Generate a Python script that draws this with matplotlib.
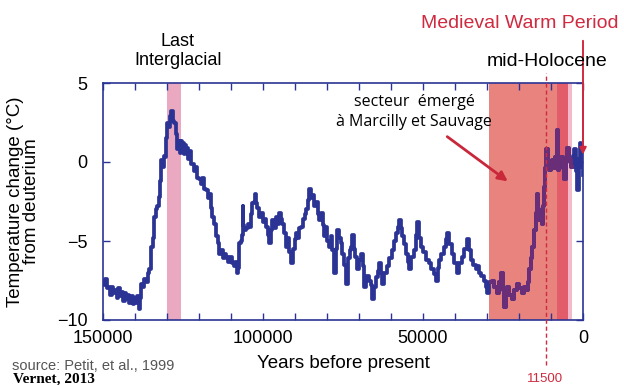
import numpy as np
import matplotlib
matplotlib.use('Agg')
import matplotlib.pyplot as plt

# Vostok deuterium temperature curve (age in kyr BP, deg C)
age_kyr = [150.0, 149.5, 149.0, 148.5, 148.0, 147.5, 147.0, 146.5, 146.0, 145.5, 145.0, 144.5,
           144.0, 143.5, 143.0, 142.5, 142.0, 141.5, 141.0, 140.5, 140.0, 139.5, 139.0, 138.6,
           138.2, 137.8, 137.3, 136.8, 136.3, 135.8, 135.3, 135.0, 134.7, 134.3, 133.75, 133.3,
           132.8, 132.2, 131.9, 131.6, 131.2, 130.9, 130.6, 130.2, 129.7, 129.3, 128.8, 128.4,
           128.0, 127.5, 127.1, 126.6, 126.2, 125.8, 125.4, 125.0, 124.6, 124.2, 123.75, 123.3,
           122.8, 122.4, 121.9, 121.4, 120.9, 120.4, 119.7, 119.2, 118.7, 118.2, 117.5, 117.0,
           116.5, 116.0, 115.6, 115.0, 114.4, 113.9, 113.4, 112.8, 112.2, 111.6, 111.25, 110.7,
           110.0, 109.4, 108.8, 108.4, 108.1, 107.6, 107.2, 106.8, 106.5, 106.25, 106.0, 105.6,
           105.0, 104.5, 104.1, 103.6, 103.1, 102.8, 102.5, 102.0, 101.5, 100.9, 100.3, 99.8,
           99.3, 98.75, 98.3, 97.8, 97.4, 96.9, 96.3, 95.8, 95.2, 94.7, 94.2, 93.75,
           93.2, 92.5, 92.0, 91.5, 90.9, 90.4, 89.9, 89.4, 88.9, 88.3, 87.8, 87.2,
           86.7, 86.25, 85.8, 85.3, 84.8, 84.3, 83.75, 83.2, 82.7, 82.2, 81.7, 81.1,
           80.6, 80.1, 79.6, 79.1, 78.6, 78.0, 77.5, 77.0, 76.6, 76.0, 75.5, 75.0,
           74.4, 73.75, 73.2, 72.7, 72.2, 71.9, 71.4, 70.8, 70.3, 69.7, 69.1, 68.6,
           68.1, 67.4, 66.6, 66.1, 65.6, 65.0, 64.4, 63.9, 63.4, 62.9, 62.5, 61.7,
           60.9, 60.2, 59.4, 58.8, 58.1, 57.6, 57.2, 56.7, 56.25, 55.6, 55.0, 54.5,
           54.1, 53.3, 52.5, 52.0, 51.6, 51.0, 50.3, 49.5, 48.75, 47.8, 46.9, 46.2,
           45.6, 45.1, 44.7, 43.9, 43.1, 42.6, 42.2, 41.4, 40.6, 39.8, 39.1, 38.3,
           37.5, 36.7, 35.9, 35.3, 34.7, 33.9, 33.1, 32.6, 32.2, 31.4, 30.6, 30.1,
           29.7, 28.9, 28.1, 27.4, 26.6, 26.0, 25.3, 24.8, 24.4, 23.9, 23.4, 22.6,
           21.9, 21.1, 20.3, 19.5, 18.75, 18.0, 17.2, 16.9, 16.6, 16.1, 15.6, 15.0,
           14.4, 14.1, 13.8, 13.4, 12.9, 12.5, 12.2, 11.9, 11.6, 11.25, 10.8, 10.3,
           9.8, 9.4, 8.8, 8.4, 8.1, 7.8, 7.2, 6.6, 6.1, 5.6, 5.1, 4.7,
           4.0, 3.4, 2.9, 2.5, 2.0, 1.6, 1.2, 0.9, 0.6, 0.3, 0.0]
temp = [-7.5, -7.8, -7.4, -8.0, -7.9, -8.4, -7.9, -8.3, -8.1, -8.6, -8.0, -8.5,
        -8.2, -8.8, -8.3, -8.7, -8.4, -8.9, -8.5, -9.0, -8.6, -8.9, -8.5, -9.3,
        -8.6, -7.7, -7.9, -7.4, -7.6, -7.0, -6.8, -6.2, -5.4, -4.8, -3.5, -3.0,
        -2.8, -2.2, -1.2, 0.1, -0.3, 0.4, 0.3, 1.5, 2.5, 2.2, 2.9, 3.2,
        2.6, 2.5, 1.8, 0.8, 1.3, 0.6, 1.3, 1.2, 0.5, 1.1, 0.9, 0.2,
        0.7, -0.1, -0.1, -0.6, -0.3, -1.0, -1.1, -1.4, -1.0, -1.7, -1.8, -2.3,
        -2.0, -2.9, -3.5, -3.9, -4.7, -5.1, -5.8, -5.6, -6.1, -5.8, -6.0, -6.3,
        -6.0, -6.4, -6.6, -6.3, -7.0, -6.7, -5.1, -5.0, -4.6, -2.8, -4.0, -4.3,
        -4.2, -3.9, -4.1, -3.3, -2.6, -2.5, -2.0, -2.6, -2.9, -3.5, -3.2, -3.8,
        -3.6, -4.1, -4.6, -5.1, -4.3, -3.7, -4.2, -3.5, -3.9, -3.2, -3.6, -3.9,
        -4.5, -5.4, -4.8, -5.7, -6.4, -5.5, -4.9, -4.5, -4.8, -4.2, -4.1, -3.6,
        -3.3, -3.0, -2.4, -1.7, -2.3, -2.1, -2.8, -2.5, -3.3, -3.7, -3.2, -4.0,
        -4.7, -4.1, -5.0, -5.4, -4.7, -5.6, -7.0, -5.5, -4.3, -4.8, -5.1, -5.8,
        -6.5, -7.7, -6.1, -5.6, -5.4, -4.6, -5.5, -6.0, -6.8, -6.2, -5.8, -6.6,
        -7.9, -7.2, -7.5, -7.8, -8.7, -7.9, -7.3, -6.9, -6.4, -7.0, -7.7, -7.0,
        -6.6, -6.1, -5.6, -5.0, -4.5, -4.1, -3.7, -4.2, -4.7, -5.2, -5.8, -6.3,
        -6.8, -6.0, -5.6, -4.6, -3.8, -4.8, -5.4, -5.7, -6.2, -6.4, -6.8, -7.1,
        -7.5, -6.7, -6.2, -5.8, -5.4, -4.9, -4.5, -5.2, -5.8, -6.4, -7.0, -6.4,
        -6.0, -5.5, -4.9, -5.6, -6.2, -6.5, -6.8, -6.6, -7.0, -7.2, -7.5, -7.9,
        -8.3, -7.6, -7.5, -7.9, -8.3, -7.6, -7.0, -8.1, -9.2, -8.3, -7.9, -8.4,
        -8.7, -8.1, -7.7, -8.0, -8.3, -7.9, -8.1, -7.6, -6.8, -6.1, -5.4, -4.3,
        -3.2, -2.0, -3.0, -3.7, -3.5, -3.9, -2.8, -1.6, -0.4, 0.8, -0.2, -0.5,
        0.0, 0.1, -0.4, 0.3, 2.0, -0.5, 0.2, 0.3, -0.4, -1.1, 0.0, 0.9,
        0.2, -0.3, 0.4, 0.8, -0.6, -1.8, 0.2, 1.2, 0.0, -0.3, -0.8]

# shaded periods (years BP)
interglacial = (130000, 125500)
emerged = (29500, 8000)
holocene_opt = (8000, 4700)
late_band = (4700, 3400)
dashed_age = 11500

years = np.array(age_kyr) * 1000
temp = np.array(temp)

navy = '#2b3494'
red = '#cf2a3f'

fig = plt.figure(figsize=(6.24, 3.85), dpi=100)
ax = fig.add_axes([103/624, 1 - 320/385, 480/624, 237/385])

ax.axvspan(*interglacial, color='#eaa9c1', lw=0, zorder=1)
ax.axvspan(*emerged, color='#e9837e', lw=0, zorder=1)
ax.axvspan(*holocene_opt, color='#e35c69', lw=0, zorder=1)
ax.axvspan(*late_band, color='#f1b9c9', lw=0, zorder=1)

ax.plot(years, temp, color=navy, lw=2.7, drawstyle='steps-mid', zorder=3)
# inside the salmon band the curve shows through purple
inside = (years <= emerged[0]) & (years >= late_band[1])
ax.plot(years[inside], temp[inside], color='#6a2d78', lw=2.7, drawstyle='steps-mid', zorder=4)

ax.axvline(dashed_age, ymin=-0.19, ymax=1.042, color=red, lw=1.0,
           ls=(0, (3, 2)), clip_on=False, zorder=5)

ax.set_xlim(150000, 0)
ax.set_ylim(-10, 5)
ax.set_xticks([150000, 100000, 50000, 0])
ax.set_xticks(np.arange(0, 150001, 10000), minor=True)
ax.set_yticks([5, 0, -5, -10])
ax.tick_params(which='both', direction='in', top=True, right=True, color=navy,
               labelsize=13, width=1.0)
ax.tick_params(which='both', length=5)
ax.tick_params(axis='y', pad=11)
ax.tick_params(axis='x', pad=7)
for lab in ax.get_xticklabels() + ax.get_yticklabels():
    lab.set_fontfamily('Liberation Sans')
for sp in ax.spines.values():
    sp.set_color(navy)
    sp.set_linewidth(1.2)

ax.set_xlabel('Years before present', fontsize=13.5, family='Liberation Sans', labelpad=6)
ax.set_ylabel('Temperature change (°C)\nfrom deuterium', fontsize=13.5,
              family='Liberation Sans', linespacing=0.95, labelpad=12)

def px(x, y):
    return x / 624, 1 - y / 385

fig.text(*px(178, 51), 'Last\nInterglacial', ha='center', va='center',
         fontsize=13, family='Liberation Sans', linespacing=1.1)
fig.text(*px(520, 23), 'Medieval Warm Period', ha='center', va='center',
         fontsize=14, color=red, family='Liberation Sans')
fig.text(*px(547, 62), 'mid-Holocene', ha='center', va='center',
         fontsize=14, family='Liberation Sans')
fig.text(*px(414, 112), 'secteur  émergé\nà Marcilly et Sauvage', ha='center', va='center',
         fontsize=11.5, family='Open Sans', linespacing=1.3)
fig.text(*px(545, 379), str(dashed_age), ha='center', va='center',
         fontsize=9.5, color=red, family='Liberation Sans')
fig.text(*px(12, 366), 'source: Petit, et al., 1999', ha='left', va='center',
         fontsize=10.5, color='#555555', family='Liberation Sans')
fig.text(*px(13, 379), 'Vernet, 2013', ha='left', va='center',
         fontsize=11, weight='bold', family='Liberation Serif')

ax.annotate('', xy=(0, 0.3), xycoords='data', xytext=(583, 385 - 38),
            textcoords='figure pixels',
            arrowprops=dict(arrowstyle='-|>', color=red, lw=1.4, mutation_scale=10),
            annotation_clip=False, zorder=6)
ax.annotate('', xy=(510, 385 - 183), xycoords='figure pixels', xytext=(445, 385 - 135),
            textcoords='figure pixels',
            arrowprops=dict(arrowstyle='-|>', color='#c8283a', lw=2.0, mutation_scale=14),
            annotation_clip=False, zorder=6)

fig.savefig('out.png', dpi=100)
